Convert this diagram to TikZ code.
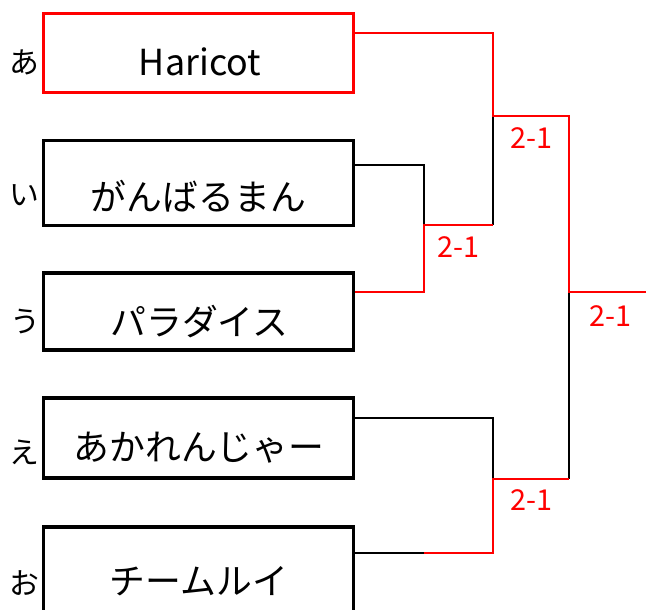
\documentclass[tikz,border=0pt]{standalone}
\usepackage{fontspec}
\setmainfont{Noto Sans CJK JP}
\begin{document}
\begin{tikzpicture}[x=0.02cm,y=-0.02cm,line width=0.85pt,
    team/.style={draw,line width=2.2pt,minimum width=6.2cm,inner sep=0pt},
    teamname/.style={font=\fontsize{20.4}{24}\selectfont,inner sep=0pt},
    seed/.style={font=\fontsize{17}{19}\selectfont,inner sep=0pt},
    score/.style={text=red,font=\fontsize{16.4}{19}\selectfont,inner sep=0pt}]
    \useasboundingbox (0,0) rectangle (646,609);

    \node[team,draw=red,minimum height=1.58cm] at (198.5,53) (t1) {};
    \node[team,minimum height=1.70cm] at (198.5,183) (t2) {};
    \node[team,minimum height=1.54cm] at (198.5,311.5) (t3) {};
    \node[team,minimum height=1.60cm] at (198.5,438) (t4) {};
    \node[team,minimum height=1.72cm] at (198.5,570) (t5) {};

    \node[teamname] at (200,62) (n1) {Haricot};
    \node[teamname] at (198.5,196) (n2) {がんばるまん};
    \node[teamname] at (199.5,321.5) (n3) {パラダイス};
    \node[teamname] at (199,447.5) (n4) {あかれんじゃー};
    \node[teamname] at (199,581) (n5) {チームルイ};

    \node[seed] at (24,62) (s1) {あ};
    \node[seed] at (24,195) (s2) {い};
    \node[seed] at (25,322) (s3) {う};
    \node[seed] at (24,452) (s4) {え};
    \node[seed] at (24,583) (s5) {お};

    \coordinate (j1) at (493,33);
    \coordinate (j2) at (424,165);
    \coordinate (j3) at (424,292);
    \coordinate (j4) at (493,418);
    \coordinate (j5) at (493,553);
    \coordinate (h5) at (424,553);
    \coordinate (w23) at (424,225);
    \coordinate (k23) at (493,225);
    \coordinate (w123) at (493,116);
    \coordinate (w45) at (493,479);
    \coordinate (f1) at (569,116);
    \coordinate (f2) at (569,479);
    \coordinate (champ) at (569,292);
    \coordinate (out) at (646,292);

    % losers' lines
    \draw
      (t2.east |- j2) -- (j2) -- (w23)
      (k23) -- (w123)
      (t4.east |- j4) -- (j4) -- (w45)
      (t5.east |- h5) -- (h5)
      (f2) -- (champ);
    % winners' lines
    \draw[red]
      (t1.east |- j1) -- (j1) -- (w123) -- (f1) -- (champ) -- (out)
      (t3.east |- j3) -- (j3) -- (w23) -- (k23)
      (h5) -- (j5) -- (w45) -- (f2);

    \node[score] at (458,247) (r1) {2-1};
    \node[score] at (531,138.5) (r2) {2-1};
    \node[score] at (531,500) (r3) {2-1};
    \node[score] at (610,316) (r4) {2-1};
  \end{tikzpicture}
\end{document}
